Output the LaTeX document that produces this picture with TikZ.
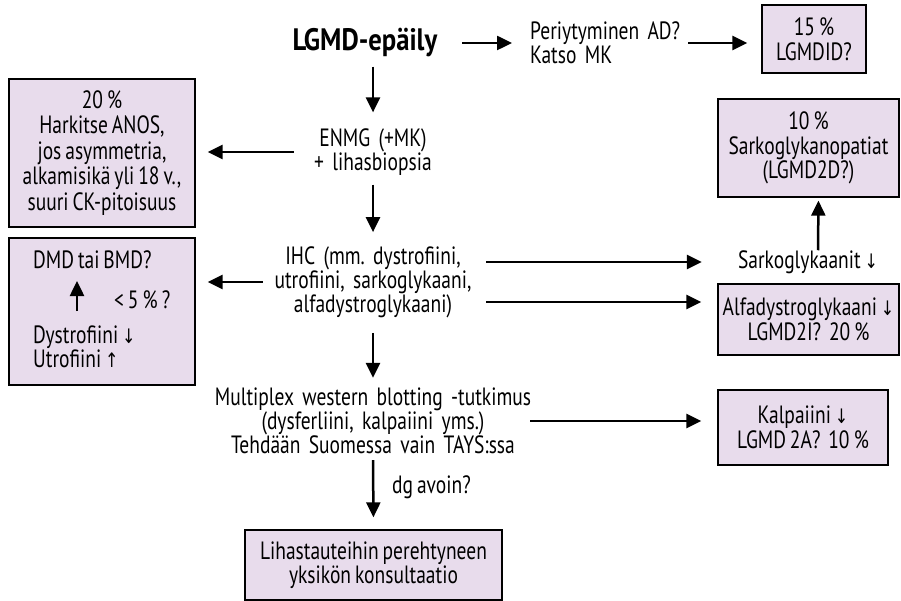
\documentclass[tikz,border=0pt]{standalone}
\usepackage{fontspec}
\setmainfont{PT Sans}[FakeStretch=0.78, WordSpace=0.75, BoldFeatures={FakeStretch=0.86}]
\newfontfamily\arrfont{DejaVu Sans}[FakeStretch=0.8]
\usetikzlibrary{arrows.meta}
\definecolor{boxfill}{RGB}{232,220,236}
\newcommand{\dnarr}{{\arrfont\fontsize{20}{20}\selectfont ↓}}
\newcommand{\uparr}{{\arrfont\fontsize{20}{20}\selectfont ↑}}
\frenchspacing
\begin{document}
\begin{tikzpicture}[x=1pt,y=-1pt,
  txt/.style={inner sep=0pt, align=center, font=\fontsize{25}{24}\selectfont},
  box/.style={draw=black, line width=1.3pt, fill=boxfill, inner sep=0pt, align=center, font=\fontsize{25}{24.5}\selectfont},
  arr/.style={line width=2.5pt, -{Triangle[length=15pt,width=14pt]}}]
\useasboundingbox (0,0) rectangle (901,601);
% nodes
\node[txt, font=\bfseries\fontsize{31}{32}\selectfont, text width=150pt] (lgmd) at (365,43) {LGMD-epäily};
\node[txt, align=left, anchor=west, text width=153pt] (per) at (530,43) {Periytyminen AD?\\Katso MK};
\node[box, minimum width=104pt, minimum height=68pt] (b15) at (814,39) {15\,\%\\LGMDID?};
\node[txt, text width=132pt] (enmg) at (373,152) {ENMG (+MK)\\+ lihasbiopsia};
\node[box, minimum width=186pt, minimum height=148pt, font=\fontsize{25}{25.5}\selectfont] (b20) at (102,153) {20\,\%\\Harkitse ANOS,\\jos asymmetria,\\alkamisikä yli 18 v.,\\suuri CK-pitoisuus};
\node[txt, text width=202pt] (ihc) at (373,282) {IHC (mm. dystrofiini,\\utrofiini, sarkoglykaani,\\alfadystroglykaani)};
\node[box, minimum width=186pt, minimum height=147pt] (bdmd) at (102,311.5) {};
\node[txt, anchor=west] (dmd) at (33,260) {DMD tai BMD?};
\node[txt, anchor=west] (lt5) at (114,300) {<\ 5\,\%\,?};
\node[txt, anchor=west, align=left] (dys) at (33,347) {Dystrofiini \dnarr\\Utrofiini \uparr};
\coordinate (ia1) at (77,311);
\coordinate (ia2) at (77,281);
\node[box, minimum width=181pt, minimum height=98pt] (b10) at (808.5,148) {10\,\%\\Sarkoglykanopatiat\\(LGMD2D?)};
\node[txt] (sarkog) at (808,262) {Sarkoglykaanit \dnarr};
\node[box, minimum width=181pt, minimum height=71pt] (balfa) at (808.5,319.5) {Alfadystroglykaani \dnarr\\LGMD2I?\ \ 20\,\%};
\node[txt, text width=340pt] (multi) at (373,421) {Multiplex western blotting -tutkimus\\(dysferliini, kalpaiini yms.)\\Tehdään Suomessa vain TAYS:ssa};
\node[box, minimum width=170pt, minimum height=75pt] (bkal) at (803,427.5) {Kalpaiini \dnarr\\LGMD 2A?\ \ 10\,\%};
\node[txt, anchor=west] (dg) at (392,487) {dg avoin?};
\node[box, minimum width=257pt, minimum height=70pt] (bcons) at (373.5,565) {Lihastauteihin perehtyneen\\yksikön konsultaatio};
% connectors
\draw[arr, shorten <=22pt, shorten >=18pt] (lgmd.east) -- (per.west);
\draw[arr, shorten <=5pt, shorten >=14pt] (per.east) -- (b15.west |- per.east);
\draw[arr, shorten <=9pt, shorten >=16pt] (lgmd.south -| enmg.north) -- (enmg.north);
\draw[arr, shorten <=13pt, shorten >=12pt] (enmg.west) -- (b20.east |- enmg.west);
\draw[arr, shorten <=9pt, shorten >=14pt] (enmg.south) -- (ihc.north);
\draw[arr, shorten <=9pt, shorten >=12pt] (ihc.west) -- (bdmd.east |- ihc.west);
\coordinate (ihcR1) at ([yshift=20pt]ihc.east);
\coordinate (ihcR2) at ([yshift=-20pt]ihc.east);
\draw[arr, shorten <=12pt, shorten >=36pt] (ihcR1) -- (ihcR1 -| sarkog.west);
\draw[arr, shorten <=12pt, shorten >=16pt] (ihcR2) -- (ihcR2 -| balfa.west);
\draw[arr, shorten <=0pt, shorten >=3pt] ([xshift=10pt]sarkog.north) -- ([xshift=10pt]b10.south);
\draw[arr, shorten <=15pt, shorten >=10pt] (ihc.south) -- (multi.north);
\draw[arr, shorten <=-13pt, shorten >=16pt] (multi.east) -- (bkal.west |- multi.east);
\draw[arr, shorten <=6pt, shorten >=12pt] (multi.south) -- (bcons.north);
\draw[arr] (ia1) -- (ia2);
\end{tikzpicture}
\end{document}
